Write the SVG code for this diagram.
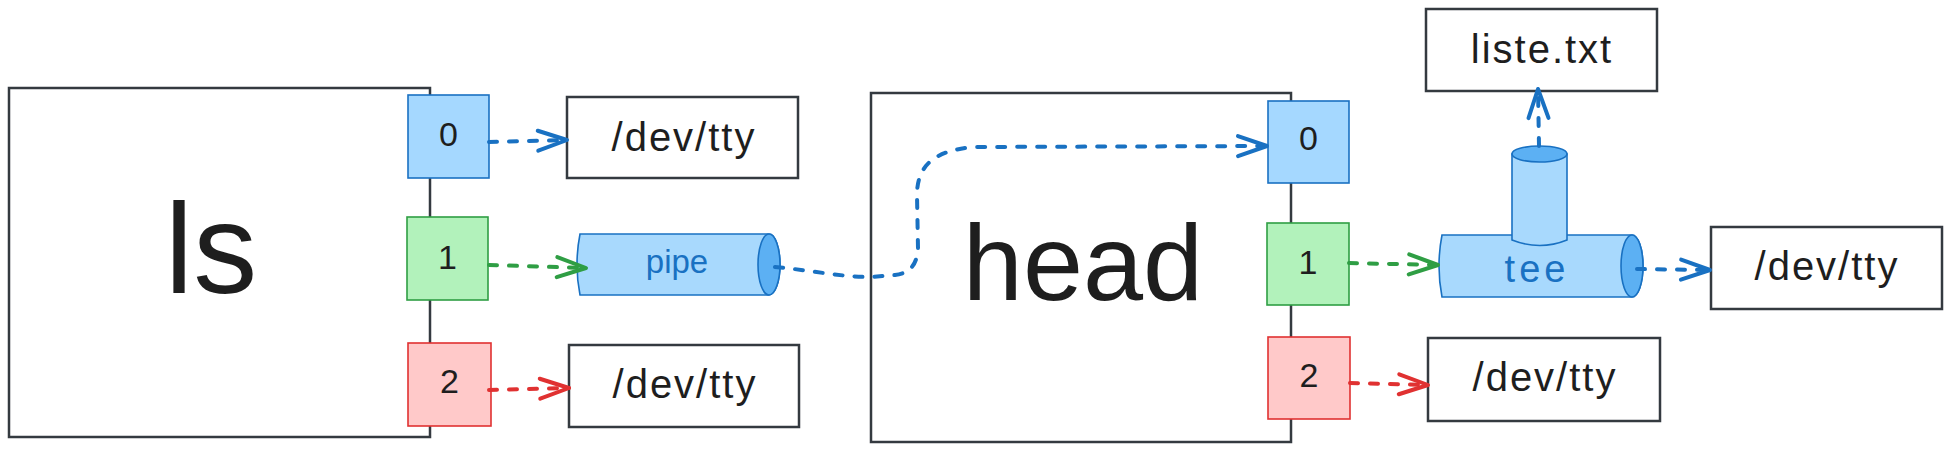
<svg xmlns="http://www.w3.org/2000/svg" width="1950" height="452" viewBox="0 0 1950 452">
<style>
.box{fill:#fff;stroke:#343a40;stroke-width:2.5}
.pb{fill:#a5d8ff;stroke:#1971c2;stroke-width:1.6}
.pg{fill:#b2f2bb;stroke:#2f9e44;stroke-width:1.6}
.pr{fill:#ffc9c9;stroke:#e03131;stroke-width:1.6}
.t{font-family:"Liberation Sans",Arial,sans-serif;fill:#1e1e1e;text-anchor:middle}
.tty{font-size:40px;letter-spacing:2px}
.dg{font-size:34px}
.tb{fill:#1971c2}
.tube{fill:#a8d9fd;stroke:#1971c2;stroke-width:1.6}
.cap{fill:#5cb0f3;stroke:#1971c2;stroke-width:1.6}
.c{fill:none;stroke-width:4;stroke-dasharray:8 12;stroke-linecap:round;stroke-linejoin:round}
.cb{stroke:#1971c2}.cg{stroke:#2f9e44}.cr{stroke:#e03131}
.ah{fill:none;stroke-width:4;stroke-linecap:round;stroke-linejoin:round}
</style>
<defs>
<marker id="ab" markerUnits="userSpaceOnUse" orient="auto" viewBox="-35 -15 40 30" markerWidth="40" markerHeight="30" refX="0" refY="0"><path class="ah" d="M-29 -10 L0 0 L-29 10" stroke="#1971c2"/></marker>
<marker id="ag" markerUnits="userSpaceOnUse" orient="auto" viewBox="-35 -15 40 30" markerWidth="40" markerHeight="30" refX="0" refY="0"><path class="ah" d="M-29 -10 L0 0 L-29 10" stroke="#2f9e44"/></marker>
<marker id="ar" markerUnits="userSpaceOnUse" orient="auto" viewBox="-35 -15 40 30" markerWidth="40" markerHeight="30" refX="0" refY="0"><path class="ah" d="M-29 -10 L0 0 L-29 10" stroke="#e03131"/></marker>
</defs>
<rect width="1950" height="452" fill="#fff"/>

<g id="ls">
<rect class="box" x="9" y="88" width="421" height="349"/>
<text class="t" x="211" y="293" font-size="128">ls</text>
</g>
<g id="ls-fd0">
<rect class="pb" x="408" y="95" width="81" height="83"/>
<text class="t dg" x="448.5" y="146">0</text>
</g>
<g id="ls-fd1">
<rect class="pg" x="407" y="217" width="81" height="83"/>
<text class="t dg" x="447.5" y="269">1</text>
</g>
<g id="ls-fd2">
<rect class="pr" x="408" y="343" width="83" height="83"/>
<text class="t dg" x="449.5" y="393">2</text>
</g>

<g id="tty1">
<rect class="box" x="567" y="97" width="231" height="81"/>
<text class="t tty" x="684" y="151">/dev/tty</text>
</g>
<g id="tty2">
<rect class="box" x="569" y="345" width="230" height="82"/>
<text class="t tty" x="685" y="398">/dev/tty</text>
</g>

<g id="pipe">
<path class="tube" d="M580 234 L769 234 A11 30.5 0 0 1 769 295 L580 295 Q574 264.5 580 234 Z"/>
<ellipse class="cap" cx="769" cy="264.5" rx="11" ry="30.5"/>
<text class="t tb" x="677" y="273" font-size="33">pipe</text>
</g>

<g id="head">
<rect class="box" x="871" y="93" width="420" height="349"/>
<text class="t" x="1083" y="300" font-size="108">head</text>
</g>
<g id="head-fd0">
<rect class="pb" x="1268" y="101" width="81" height="82"/>
<text class="t dg" x="1308.5" y="150">0</text>
</g>
<g id="head-fd1">
<rect class="pg" x="1267" y="223" width="82" height="82"/>
<text class="t dg" x="1308" y="274">1</text>
</g>
<g id="head-fd2">
<rect class="pr" x="1268" y="337" width="82" height="82"/>
<text class="t dg" x="1309" y="387">2</text>
</g>

<g id="tee">
<path class="tube" d="M1442 235 L1632 235 A11 31 0 0 1 1632 297 L1442 297 Q1436 266 1442 235 Z"/>
<ellipse class="cap" cx="1632" cy="266" rx="11" ry="31"/>
<path class="tube" d="M1512 154 L1512 240 Q1540 251 1567 240 L1567 154 Z"/>
<ellipse class="cap" cx="1539.5" cy="154" rx="27.5" ry="8"/>
<text class="t tb" x="1537" y="282" font-size="38" letter-spacing="4">tee</text>
</g>

<g id="liste">
<rect class="box" x="1426" y="9" width="231" height="82"/>
<text class="t" x="1542" y="63" font-size="40" letter-spacing="2">liste.txt</text>
</g>
<g id="tty3">
<rect class="box" x="1428" y="338" width="232" height="83"/>
<text class="t tty" x="1545" y="391">/dev/tty</text>
</g>
<g id="tty4">
<rect class="box" x="1711" y="227" width="231" height="82"/>
<text class="t tty" x="1827" y="280">/dev/tty</text>
</g>

<g id="connectors">
<path class="c cb" d="M489 142 L567 140" marker-end="url(#ab)"/>
<path class="c cg" d="M489 265 L586 268" marker-end="url(#ag)"/>
<path class="c cr" d="M489 390 L569 388" marker-end="url(#ar)"/>
<path class="c cb" d="M775 267 C810 270 840 277 870 277 L895 275 C910 273 917 265 918 248 L917 195 C917 165 935 150 975 147 L1267 146" marker-end="url(#ab)"/>
<path class="c cg" d="M1349 263 L1438 265" marker-end="url(#ag)"/>
<path class="c cr" d="M1350 383 L1428 385" marker-end="url(#ar)"/>
<path class="c cb" d="M1637 269 L1710 270" marker-end="url(#ab)"/>
<path class="c cb" d="M1539 146 L1538 89" marker-end="url(#ab)"/>
</g>
</svg>
